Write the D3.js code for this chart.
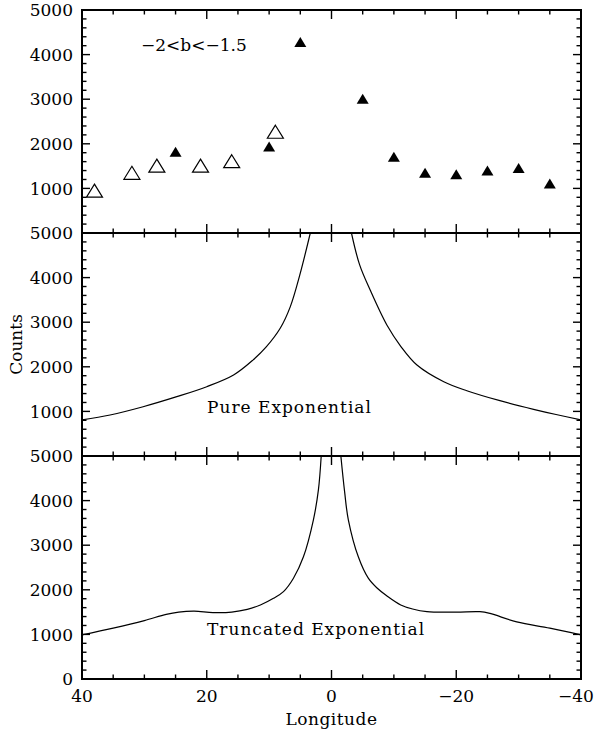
<!DOCTYPE html>
<html>
<head>
<meta charset="utf-8">
<style>
  body { margin: 0; background: #fff; }
  svg text { font-family: "DejaVu Serif", serif; font-size: 17px; fill: #000; }
  svg text.lab { letter-spacing: 1px; }
</style>
</head>
<body>
<div id="chart"></div>
<script src="https://d3js.org/d3.v7.min.js"></script>
<script>
'use strict';

// top panel: measured counts, -2 < b < -1.5
var openLon = [38, 32, 28, 21, 16, 9];
var openCounts = [950, 1350, 1510, 1510, 1610, 2270];
var filledLon = [25, 10, 5, -5, -10, -15, -20, -25, -30, -35];
var filledCounts = [1820, 1940, 4280, 3010, 1710, 1350, 1320, 1400, 1460, 1110];

// middle panel: pure exponential model (null = off the top of the panel)
var pureLon = [40, 35.5, 30.2, 24.8, 20, 15.7, 12.6, 10.5, 8.2, 6.6, 5.1, 3.4, 0,
  -3.2, -4.5, -6.2, -8.9, -11.1, -13.7, -18, -21.7, -27, -32.4, -36, -40];
var pureCounts = [810, 920, 1105, 1330, 1554, 1816, 2150, 2440, 2870, 3350, 4050, 5000, null,
  5000, 4290, 3720, 2930, 2460, 2040, 1666, 1464, 1240, 1047, 930, 810];

// bottom panel: truncated exponential model
var truncLon = [40, 35, 30, 26.5, 24.5, 22, 19, 16, 13.5, 11.4, 9.3, 7.7, 6.1, 4.5, 2.9, 2.1, 1.65, 0,
  -1.5, -2.1, -2.7, -4.3, -5.9, -7.3, -8.9, -11.1, -13, -15.3, -20, -23.8, -25.4, -29.7, -35, -40];
var truncCounts = [990, 1140, 1310, 1450, 1500, 1520, 1490, 1500, 1560, 1660, 1810, 1960, 2260, 2740, 3570, 4240, 5000, null,
  5000, 4200, 3570, 2740, 2260, 2040, 1860, 1660, 1570, 1510, 1500, 1510, 1470, 1280, 1140, 990];

var xTickLabels = [40, 20, 0, -20, -40];
var yTickLabels = [1000, 2000, 3000, 4000, 5000];

var W = 602, H = 732;
var margin = { top: 10, right: 21, bottom: 53, left: 82 };
var panelH = (H - margin.top - margin.bottom) / 3;
var plotW = W - margin.left - margin.right;

var svg = d3.select('#chart').append('svg').attr('width', W).attr('height', H);

var x = d3.scaleLinear().domain([40, -40]).range([margin.left, margin.left + plotW]);

function zip(a, b) { return a.map(function(v, i) { return { lon: v, c: b[i] }; }); }

var panels = [
  { label: null },
  { label: 'Pure Exponential', lon: pureLon, counts: pureCounts, ly: 413 },
  { label: 'Truncated Exponential', lon: truncLon, counts: truncCounts, ly: 635 }
];

panels.forEach(function(p, i) {
  var top = margin.top + i * panelH, bottom = top + panelH;
  var y = d3.scaleLinear().domain([0, 5000]).range([bottom, top]);
  p.y = y;
  var g = svg.append('g');

  var clipId = 'clip' + i;
  svg.append('clipPath').attr('id', clipId).append('rect')
    .attr('x', margin.left).attr('y', top).attr('width', plotW).attr('height', panelH);

  // x ticks, top and bottom edges, pointing inward
  d3.range(-40, 41, 5).forEach(function(v) {
    var len = v % 20 === 0 ? 9 : 4.5;
    g.append('line').attr('x1', x(v)).attr('x2', x(v)).attr('y1', top).attr('y2', top + len);
    g.append('line').attr('x1', x(v)).attr('x2', x(v)).attr('y1', bottom).attr('y2', bottom - len);
  });
  // y ticks left and right
  d3.range(0, 5001, 200).forEach(function(v) {
    var len = v % 1000 === 0 ? 8 : 4.5;
    g.append('line').attr('x1', margin.left).attr('x2', margin.left + len).attr('y1', y(v)).attr('y2', y(v));
    g.append('line').attr('x1', margin.left + plotW).attr('x2', margin.left + plotW - len).attr('y1', y(v)).attr('y2', y(v));
  });
  g.selectAll('line').attr('stroke', '#000').attr('stroke-width', 1.4);

  g.append('rect').attr('x', margin.left).attr('y', top).attr('width', plotW).attr('height', panelH)
    .attr('fill', 'none').attr('stroke', '#000').attr('stroke-width', 2);

  // y tick labels
  var labs = yTickLabels.slice();
  if (i === 2) labs.unshift(0);
  g.selectAll('text.yl').data(labs).enter().append('text')
    .attr('x', margin.left - 9).attr('y', function(d) { return y(d); })
    .attr('dy', '0.36em').attr('text-anchor', 'end').text(function(d) { return d; });

  if (p.lon) {
    var line = d3.line()
      .defined(function(d) { return d.c != null; })
      .x(function(d) { return x(d.lon); })
      .y(function(d) { return y(d.c); })
      .curve(d3.curveCatmullRom.alpha(0.5));
    g.append('path').datum(zip(p.lon, p.counts))
      .attr('clip-path', 'url(#' + clipId + ')')
      .attr('d', line).attr('fill', 'none').attr('stroke', '#000').attr('stroke-width', 1.2);
    g.append('text').attr('class', 'lab').attr('x', 207).attr('y', p.ly).text(p.label);
  }
});

// top panel markers
var yTop = panels[0].y;
function tri(w, h) { return 'M0,' + (-h / 2) + 'L' + (w / 2) + ',' + (h / 2) + 'L' + (-w / 2) + ',' + (h / 2) + 'Z'; }
svg.selectAll('path.open').data(zip(openLon, openCounts)).enter().append('path')
  .attr('class', 'open').attr('d', tri(16, 13))
  .attr('transform', function(d) { return 'translate(' + x(d.lon) + ',' + yTop(d.c) + ')'; })
  .attr('fill', 'none').attr('stroke', '#000').attr('stroke-width', 1.2);
svg.selectAll('path.filled').data(zip(filledLon, filledCounts)).enter().append('path')
  .attr('class', 'filled').attr('d', tri(12, 10))
  .attr('transform', function(d) { return 'translate(' + x(d.lon) + ',' + yTop(d.c) + ')'; })
  .attr('fill', '#000');

svg.append('text').attr('x', 141).attr('y', 51).text('\u22122<b<\u22121.5');

// x tick labels (bottom)
svg.selectAll('text.xl').data(xTickLabels).enter().append('text')
  .attr('x', function(d) { return Math.min(x(d), 576); })
  .attr('y', 702).attr('text-anchor', 'middle')
  .text(function(d) { return d < 0 ? '\u2212' + (-d) : d; });

svg.append('text').attr('class', 'lab').attr('x', margin.left + plotW / 2).attr('y', 725)
  .attr('text-anchor', 'middle').style('letter-spacing', '0.5px').text('Longitude');
svg.append('text').attr('transform', 'translate(22,' + (margin.top + 1.5 * panelH) + ') rotate(-90)')
  .attr('text-anchor', 'middle').text('Counts');
</script>
</body>
</html>
